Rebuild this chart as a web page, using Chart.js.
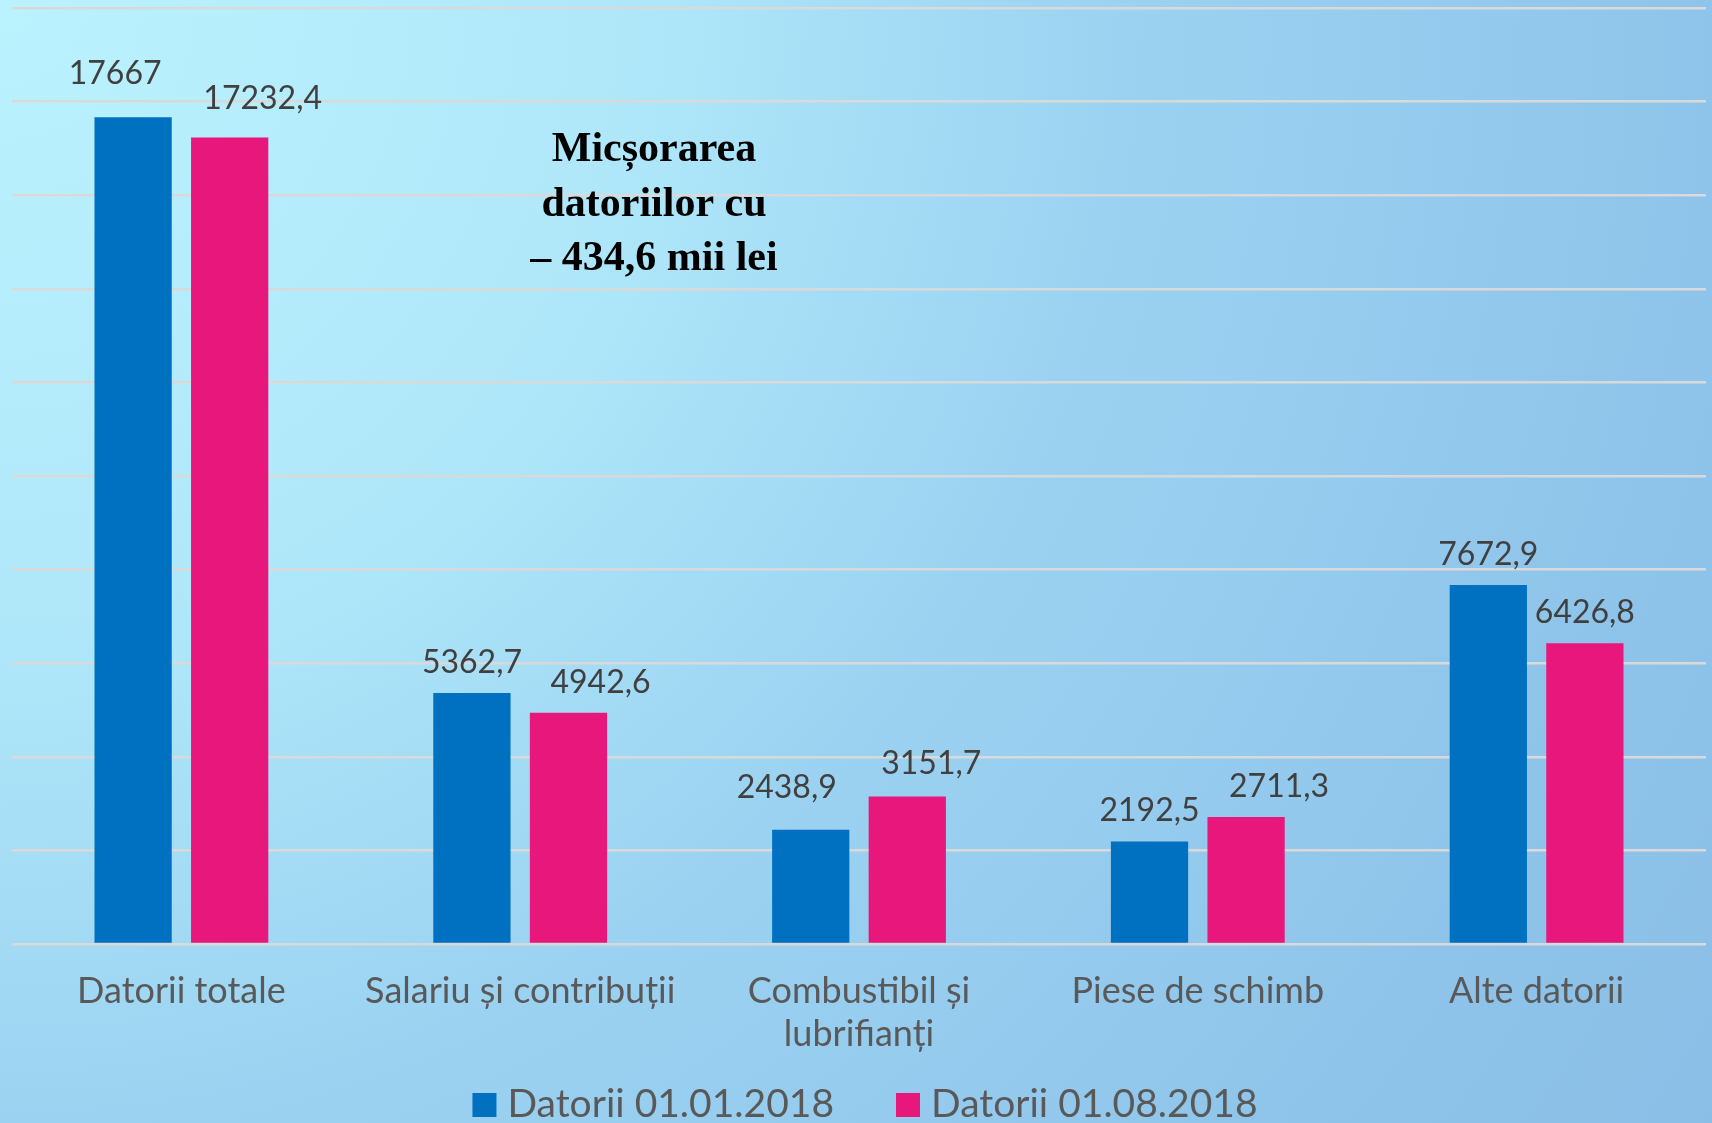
<!DOCTYPE html>
<html>
<head>
<meta charset="utf-8">
<script src="https://cdn.jsdelivr.net/npm/chart.js@4.4.1/dist/chart.umd.min.js"></script>
<style>
  html, body { margin: 0; padding: 0; }
  body {
    width: 1712px; height: 1123px; overflow: hidden;
    background: radial-gradient(circle farthest-corner at 0 0, #baf2fe 0%, #b0e8fa 30%, #9bd2f1 55%, #8fc4ea 84%, #8abee6 100%);
  }
  #wrap { position: relative; width: 1712px; height: 1123px; }
</style>
</head>
<body>
<div id="wrap"><canvas id="debts" width="1712" height="1123"></canvas></div>
<script>
// categorii si valori (mii lei)
const categories = ['Datorii totale', 'Salariu și contribuții', ['Combustibil și', 'lubrifianți'], 'Piese de schimb', 'Alte datorii'];
const seriesNames = ['Datorii 01.01.2018', 'Datorii 01.08.2018'];
const debtsJan = [17667, 5362.7, 2438.9, 2192.5, 7672.9];
const debtsAug = [17232.4, 4942.6, 3151.7, 2711.3, 6426.8];
const yTicks = [0, 2000, 4000, 6000, 8000, 10000, 12000, 14000, 16000, 18000, 20000];
const noteLines = ['Micșorarea', 'datoriilor cu', '– 434,6 mii lei'];

// label nudges (px), like the hand-placed labels in the original
const labelShift = [
  [[-18, 13], [0, 0], [-24, 12], [0, 0], [0, 0]],
  [[33, 9], [32, 0], [24, 3], [33, 0], [0, 0]]
];

const colors = ['#0070C0', '#E8177B'];
const fmt = v => String(v).replace('.', ',');

const valueLabels = {
  id: 'valueLabels',
  afterDatasetsDraw(chart) {
    const ctx = chart.ctx;
    ctx.save();
    ctx.font = '32px Lato';
    ctx.fillStyle = '#404040';
    ctx.textAlign = 'center';
    ctx.textBaseline = 'alphabetic';
    chart.data.datasets.forEach((ds, d) => {
      chart.getDatasetMeta(d).data.forEach((bar, i) => {
        const s = labelShift[d][i];
        ctx.fillText(fmt(ds.data[i]), bar.x + s[0], bar.y - 20 - s[1]);
      });
    });
    ctx.restore();
  }
};

const noteAndLegend = {
  id: 'noteAndLegend',
  afterDraw(chart) {
    const ctx = chart.ctx;
    const area = chart.chartArea;
    ctx.save();
    // annotation
    ctx.font = 'bold 42px "Liberation Serif"';
    ctx.fillStyle = '#000';
    ctx.textAlign = 'center';
    ctx.textBaseline = 'alphabetic';
    const nx = area.left + (area.right - area.left) * 0.379;
    noteLines.forEach((t, i) => ctx.fillText(t, nx, 161 + i * 54.5));

    // legend
    ctx.font = '39px Lato';
    ctx.textAlign = 'left';
    const box = 24, gapBox = 11, gapItem = 62;
    const widths = chart.data.datasets.map(ds => ctx.measureText(ds.label).width);
    let total = 0;
    widths.forEach((w, i) => { total += box + gapBox + w + (i ? gapItem : 0); });
    let x = 865 - total / 2;
    const base = 1117;
    chart.data.datasets.forEach((ds, i) => {
      ctx.fillStyle = ds.backgroundColor;
      ctx.fillRect(x, base - box, box, box);
      x += box + gapBox;
      ctx.fillStyle = '#595959';
      ctx.fillText(ds.label, x, base);
      x += widths[i] + gapItem;
    });
    ctx.restore();
  }
};

new Chart(document.getElementById('debts'), {
  type: 'bar',
  data: {
    labels: categories,
    datasets: [
      { label: seriesNames[0], data: debtsJan, backgroundColor: colors[0] },
      { label: seriesNames[1], data: debtsAug, backgroundColor: colors[1] }
    ]
  },
  options: {
    responsive: false,
    animation: false,
    layout: { padding: { left: 12, right: 6, top: 8, bottom: 0 } },
    datasets: { bar: { categoryPercentage: 0.57, barPercentage: 0.8 } },
    plugins: {
      legend: { display: false },
      tooltip: { enabled: false }
    },
    scales: {
      x: {
        grid: { display: false, drawTicks: false },
        border: { display: false },
        ticks: {
          font: { family: 'Lato', size: 36, lineHeight: 1.22 },
          color: '#595959',
          padding: 25,
          maxRotation: 0,
          autoSkip: false
        },
        afterFit(scale) { scale.height = 179; }
      },
      y: {
        min: yTicks[0],
        max: yTicks[yTicks.length - 1],
        afterBuildTicks(scale) { scale.ticks = yTicks.map(v => ({ value: v })); },
        ticks: { display: false },
        grid: { color: '#d9d9d9', lineWidth: 2.5, drawTicks: false },
        border: { display: false },
        afterFit(scale) { scale.width = 0; }
      }
    }
  },
  plugins: [valueLabels, noteAndLegend]
});
</script>
</body>
</html>
